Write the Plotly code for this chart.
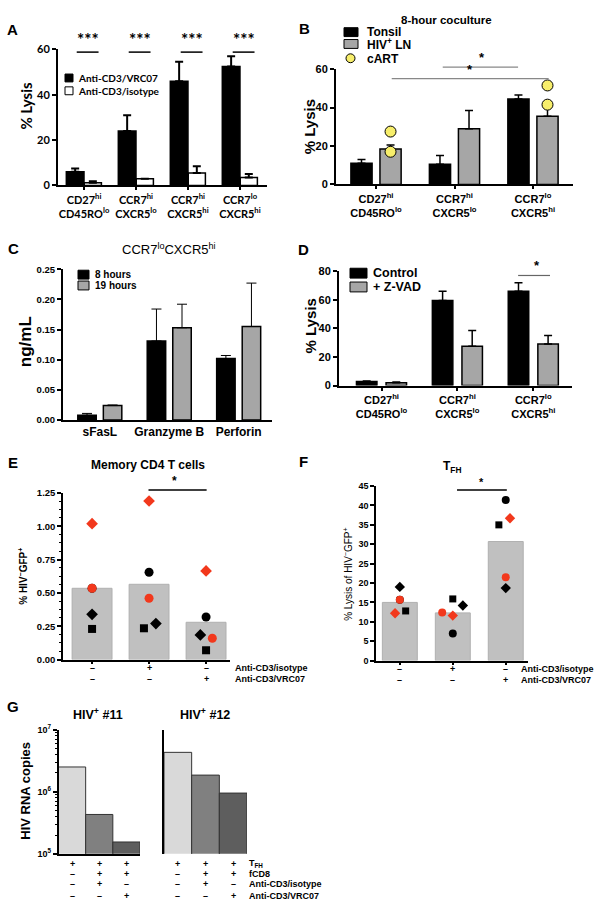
import plotly.graph_objects as go

W, H = 604, 915
FONT = "Liberation Sans, Arial, sans-serif"
FONT_A = "Lato, Carlito, sans-serif"
RED = "#f2381c"
GRAY = "#a6a6a6"

# ---------------- data ----------------
A_categories = ["CD27<sup>hi</sup><br>CD45RO<sup>lo</sup>", "CCR7<sup>hi</sup><br>CXCR5<sup>lo</sup>",
                "CCR7<sup>hi</sup><br>CXCR5<sup>hi</sup>", "CCR7<sup>lo</sup><br>CXCR5<sup>hi</sup>"]
A_vrc07 = [6.0, 24.0, 46.0, 52.5]
A_vrc07_err = [1.5, 7.0, 8.5, 4.5]
A_isotype = [1.2, 3.0, 5.5, 3.5]
A_isotype_err = [0.6, 0.0, 3.0, 1.5]
A_sig = ["***", "***", "***", "***"]

B_categories = ["CD27<sup>hi</sup><br>CD45RO<sup>lo</sup>", "CCR7<sup>hi</sup><br>CXCR5<sup>lo</sup>",
                "CCR7<sup>lo</sup><br>CXCR5<sup>hi</sup>"]
B_tonsil = [11.0, 10.5, 44.5]
B_tonsil_err = [2.0, 4.5, 2.0]
B_ln = [18.5, 29.0, 35.5]
B_ln_err = [2.0, 9.5, 7.5]
B_cart_group = [0, 0, 2, 2]
B_cart = [27.5, 17.0, 51.5, 41.5]

C_categories = ["sFasL", "Granzyme B", "Perforin"]
C_8h = [0.008, 0.131, 0.102]
C_8h_err = [0.003, 0.053, 0.005]
C_19h = [0.024, 0.153, 0.155]
C_19h_err = [0.001, 0.039, 0.072]

D_categories = B_categories
D_control = [2.8, 59.5, 66.0]
D_control_err = [0.4, 6.5, 6.0]
D_zvad = [2.0, 27.5, 29.0]
D_zvad_err = [0.5, 11.0, 6.0]

EF_isotype = ["–", "+", "–"]
EF_vrc07 = ["–", "–", "+"]

E_mean = [0.535, 0.565, 0.28]
E_black_circle = [0.535, 0.655, 0.32]
E_red_diamond = [1.02, 1.19, 0.665]
E_red_circle = [0.535, 0.46, 0.16]
E_black_diamond = [0.34, 0.27, 0.185]
E_black_square = [0.23, 0.235, 0.07]

F_mean = [15.0, 12.3, 30.7]
F_black_circle = [15.7, 7.0, 41.4]
F_red_diamond = [12.2, 11.6, 36.7]
F_red_circle = [15.7, 12.4, 21.5]
F_black_diamond = [19.0, 14.2, 18.7]
F_black_square = [12.8, 15.9, 35.0]

G_tfh = ["+", "+", "+"]
G_fcd8 = ["–", "+", "+"]
G_iso = ["–", "+", "–"]
G_vrc07 = ["–", "–", "+"]
G_p11 = [2.5e6, 4.3e5, 1.55e5]
G_p12 = [4.3e6, 1.85e6, 9.5e5]

# jitter of the individual donor points (horizontal spread, category units)
E_jit = {"bc": [0, 0, 0], "rd": [0, 0, 0], "rc": [0, 0, 0.11],
         "bd": [0, 0.12, -0.1], "bs": [0, -0.09, 0]}
F_jit = {"bc": [0, 0, 0], "rd": [-0.09, 0, 0.08], "rc": [0, -0.2, 0],
         "bd": [0, 0.19, 0], "bs": [0.11, 0, -0.13]}

fig = go.Figure()
layout = dict(width=W, height=H, margin=dict(l=0, r=0, t=0, b=0),
              paper_bgcolor="white", plot_bgcolor="white", showlegend=False,
              barmode="overlay", annotations=[], shapes=[])


def ax_names(n):
    s = "" if n == 1 else str(n)
    return "x" + s, "y" + s, "xaxis" + s, "yaxis" + s


def add_axes(n, xpx, ypx, xr, yr, xkw=None, ykw=None, lw=2):
    xs, ys, xn, yn = ax_names(n)
    xa = dict(domain=[xpx[0] / W, xpx[1] / W], range=xr, anchor=ys, showgrid=False,
              zeroline=False, showline=True, linecolor="black", linewidth=lw, tickangle=0,
              ticks="outside", ticklen=3, tickwidth=lw, tickcolor="black", fixedrange=True)
    ya = dict(domain=[1 - ypx[1] / H, 1 - ypx[0] / H], range=yr, anchor=xs, showgrid=False,
              zeroline=False, showline=True, linecolor="black", linewidth=lw,
              ticks="outside", ticklen=4, tickwidth=lw, tickcolor="black", fixedrange=True)
    if xkw:
        xa.update(xkw)
    if ykw:
        ya.update(ykw)
    layout[xn] = xa
    layout[yn] = ya
    return xs, ys


def ann(text, x, y, size, bold=True, xanchor="center", yanchor="middle", family=FONT,
        angle=0, xref="paper", yref="paper", color="black"):
    if xref == "paper":
        x = x / W
    if yref == "paper":
        y = 1 - y / H
    layout["annotations"].append(dict(
        text=text, x=x, y=y, xref=xref, yref=yref, showarrow=False, xanchor=xanchor,
        yanchor=yanchor, textangle=angle,
        font=dict(family=family, size=size, color=color, weight="bold" if bold else "normal")))


def rect_px(x0, y0, x1, y1, fill, line="black", lw=1):
    layout["shapes"].append(dict(type="rect", xref="paper", yref="paper",
                                 x0=x0 / W, x1=x1 / W, y0=1 - y1 / H, y1=1 - y0 / H,
                                 fillcolor=fill, line=dict(color=line, width=lw)))


def sig(xs, ys, x0, x1, y, ymax, text, xt, size, color="black", lw=1.5, family=FONT):
    # significance bar: y given in data units, placed through the axis domain
    layout["shapes"].append(dict(type="line", xref=xs, yref=ys + " domain", x0=x0, x1=x1,
                                 y0=y / ymax, y1=y / ymax, line=dict(color=color, width=lw)))
    ann(text, xt, y / ymax, size, xref=xs, yref=ys + " domain", yanchor="bottom", family=family)


def bar(xs, ys, vals, err, shift, width, color, lw=1.5, ethick=1.5, ewidth=4):
    fig.add_trace(go.Bar(
        x=[i + shift for i in range(len(vals))], y=vals, width=width, xaxis=xs, yaxis=ys,
        marker=dict(color=color, line=dict(color="black", width=lw)),
        error_y=dict(type="data", array=err, arrayminus=[0] * len(vals), symmetric=False,
                     color="black", thickness=ethick, width=ewidth)))


# ---------------- panel A ----------------
xa, ya = add_axes(1, (58, 267), (43, 181), [-0.5, 3.52], [0, 60],
                  xkw=dict(tickvals=list(range(4)), ticktext=A_categories,
                           tickfont=dict(family=FONT_A, size=11, color="black", weight="bold")),
                  ykw=dict(tickvals=[0, 20, 40, 60],
                           tickfont=dict(family=FONT_A, size=11, color="black", weight="bold")))
bar(xa, ya, A_vrc07, A_vrc07_err, -0.17, 0.34, "black", ethick=2, ewidth=4)
bar(xa, ya, A_isotype, A_isotype_err, 0.17, 0.33, "white", ethick=2, ewidth=4)
for i, s in enumerate(A_sig):
    sig(xa, ya, i - 0.14, i + 0.28, 58.8, 60, s, i + 0.07, 17, family=FONT_A)
ann("% Lysis", 26, 100, 15, family=FONT_A, angle=-90)
ann("A", 12.5, 23, 15)
rect_px(65, 68, 73, 76, "black")
rect_px(65, 81, 73, 89, "white")
ann("Anti-CD3/VRC07", 76, 72, 10, family=FONT_A, xanchor="left")
ann("Anti-CD3/isotype", 76, 85, 10, family=FONT_A, xanchor="left")

# ---------------- panel B ----------------
xb, yb = add_axes(2, (336, 573), (63, 180), [-0.51, 2.51], [0, 60],
                  xkw=dict(tickvals=list(range(3)), ticktext=B_categories,
                           tickfont=dict(family=FONT, size=11, color="black", weight="bold")),
                  ykw=dict(tickvals=[0, 20, 40, 60],
                           tickfont=dict(family=FONT, size=11, color="black", weight="bold")))
bar(xb, yb, B_tonsil, B_tonsil_err, -0.185, 0.27, "black")
bar(xb, yb, B_ln, B_ln_err, 0.185, 0.27, GRAY)
fig.add_trace(go.Scatter(x=[g + 0.185 for g in B_cart_group], y=B_cart, mode="markers",
                         xaxis=xb, yaxis=yb, cliponaxis=False,
                         marker=dict(size=11, color="#f7ee6b", line=dict(color="black", width=1))))
sig(xb, yb, 0.85, 1.81, 61, 60, "*", 1.35, 13, color="#888888", lw=1.2)
sig(xb, yb, 0.2, 2.2, 55, 60, "*", 1.2, 13, color="#888888", lw=1.2)
ann("% Lysis", 309, 122, 15, angle=-90)
ann("B", 304, 22, 15)
ann("8-hour coculture", 447, 13, 11.5)
rect_px(344, 21, 358, 30, "black")
rect_px(344, 33, 358, 42, GRAY)
layout["shapes"].append(dict(type="circle", xref="paper", yref="paper",
                             x0=346 / W, x1=355 / W, y0=1 - 56.5 / H, y1=1 - 47.5 / H,
                             fillcolor="#f7ee6b", line=dict(color="black", width=1)))
ann("Tonsil", 365, 25.5, 12, xanchor="left")
ann("HIV<sup>+</sup> LN", 365, 37.5, 12, xanchor="left")
ann("cART", 365, 53, 12, xanchor="left")

# ---------------- panel C ----------------
xc, yc = add_axes(3, (63, 272), (266, 419), [-0.53, 2.48], [0, 0.25],
                  xkw=dict(tickvals=list(range(3)), ticktext=C_categories, ticks="",
                           tickfont=dict(family=FONT, size=12, color="black", weight="bold")),
                  ykw=dict(tickvals=[0, 0.05, 0.10, 0.15, 0.20, 0.25], tickformat=".2f",
                           tickfont=dict(family=FONT, size=9.5, color="black", weight="bold")))
bar(xc, yc, C_8h, C_8h_err, -0.184, 0.266, "black", ethick=1, ewidth=5)
bar(xc, yc, C_19h, C_19h_err, 0.184, 0.266, GRAY, ethick=1, ewidth=5)
ann("ng/mL", 25, 340, 17, angle=-90)
ann("C", 13, 245, 15)
ann("CCR7<sup>lo</sup>CXCR5<sup>hi</sup>", 169, 245, 13, bold=False)
rect_px(78, 267, 89, 276, "black")
rect_px(78, 278, 89, 287, GRAY)
ann("8 hours", 93, 271.5, 10, xanchor="left")
ann("19 hours", 93, 282.5, 10, xanchor="left")

# ---------------- panel D ----------------
xd, yd = add_axes(4, (339, 572), (268, 384), [-0.56, 2.51], [0, 80],
                  xkw=dict(tickvals=list(range(3)), ticktext=D_categories,
                           tickfont=dict(family=FONT, size=11, color="black", weight="bold")),
                  ykw=dict(tickvals=[0, 20, 40, 60, 80],
                           tickfont=dict(family=FONT, size=11, color="black", weight="bold")))
bar(xd, yd, D_control, D_control_err, -0.195, 0.27, "black")
bar(xd, yd, D_zvad, D_zvad_err, 0.195, 0.27, GRAY)
sig(xd, yd, 1.80, 2.22, 77, 80, "*", 2.05, 13, color="#666666", lw=1.2)
ann("% Lysis", 310, 324, 15, angle=-90)
ann("D", 303, 246, 15)
rect_px(350, 265, 367, 275, "black")
rect_px(350, 279, 367, 289, GRAY)
ann("Control", 371, 270, 12.5, xanchor="left")
ann("+ Z-VAD", 371, 284, 12.5, xanchor="left")


# ---------------- panels E, F ----------------
def donor_points(xs, ys, jit, bc, rd, rc, bd, bs, size):
    specs = [("bc", bc, "circle", "black", size + 1),
             ("rd", rd, "diamond", RED, size + 1),
             ("rc", rc, "circle", RED, size + 1),
             ("bd", bd, "diamond", "black", size + 1),
             ("bs", bs, "square", "black", size)]
    for key, vals, sym, col, sz in specs:
        fig.add_trace(go.Scatter(x=[i + jit[key][i] for i in range(len(vals))], y=vals,
                                 mode="markers", xaxis=xs, yaxis=ys, cliponaxis=False,
                                 marker=dict(symbol=sym, size=sz, color=col, line=dict(width=0))))


xe, ye = add_axes(5, (63, 230), (493, 662), [-0.51, 2.42], [0, 1.25], lw=1.5,
                  xkw=dict(tickvals=list(range(3)), showticklabels=False),
                  ykw=dict(tickvals=[0, 0.25, 0.5, 0.75, 1.0, 1.25], tickformat=".2f",
                           tickfont=dict(family=FONT, size=9.5, color="black", weight="bold"),
                           minor=dict(ticks="outside", ticklen=2, tickwidth=1, dtick=0.0625,
                                      tickcolor="black", showgrid=False)))
fig.add_trace(go.Bar(x=list(range(3)), y=E_mean, width=0.7, xaxis=xe, yaxis=ye,
                     marker=dict(color="#c0c0c0", line=dict(color="#b0b0b0", width=1))))
donor_points(xe, ye, E_jit, E_black_circle, E_red_diamond, E_red_circle, E_black_diamond,
             E_black_square, 8)
sig(xe, ye, 0.99, 2.01, 1.272, 1.25, "*", 1.45, 12)
ann("% HIV<sup>−</sup>GFP<sup>+</sup>", 23, 578, 10, angle=-90)
ann("E", 12.5, 462, 15)
ann("Memory CD4 T cells", 148, 465, 12)
for i in range(3):
    ann(EF_isotype[i], i, 671, 9, xref=xe)
    ann(EF_vrc07[i], i, 682, 9, xref=xe)
ann("Anti-CD3/isotype", 233, 671, 9, xanchor="left")
ann("Anti-CD3/VRC07", 233, 682, 9, xanchor="left")

xf, yf = add_axes(6, (376, 528), (486, 663), [-0.45, 2.42], [0, 45], lw=1.5,
                  xkw=dict(tickvals=list(range(3)), showticklabels=False),
                  ykw=dict(tickvals=list(range(0, 46, 5)),
                           tickfont=dict(family=FONT, size=9, color="black", weight="bold")))
fig.add_trace(go.Bar(x=list(range(3)), y=F_mean, width=0.66, xaxis=xf, yaxis=yf,
                     marker=dict(color="#c0c0c0", line=dict(color="#b0b0b0", width=1))))
donor_points(xf, yf, F_jit, F_black_circle, F_red_diamond, F_red_circle, F_black_diamond,
             F_black_square, 7)
sig(xf, yf, 1.08, 2.02, 44, 45, "*", 1.55, 11)
ann("% Lysis of HIV<sup>−</sup>GFP<sup>+</sup>", 348, 575, 10, bold=False, angle=-90)
ann("F", 303, 461, 15)
ann("T<sub>FH</sub>", 452, 467, 12)
for i in range(3):
    ann(EF_isotype[i], i, 672, 9, xref=xf)
    ann(EF_vrc07[i], i, 683, 9, xref=xf)
ann("Anti-CD3/isotype", 519, 672, 9, xanchor="left")
ann("Anti-CD3/VRC07", 519, 683, 9, xanchor="left")

# ---------------- panel G ----------------
g_colors = ["#d9d9d9", "#808080", "#5e5e5e"]
logkw = dict(type="log", tickvals=[1e5, 1e6, 1e7],
             ticktext=["10<sup>5</sup>", "10<sup>6</sup>", "10<sup>7</sup>"],
             tickfont=dict(family=FONT, size=9, color="black", weight="bold"),
             minor=dict(ticks="outside", ticklen=2, tickwidth=1, dtick="D1", tickcolor="black",
                        showgrid=False))
xg1, yg1 = add_axes(7, (58.5, 140), (733, 859), [-0.5, 2.5], [5, 7], lw=1.5,
                    xkw=dict(tickvals=list(range(3)), showticklabels=False, ticks=""),
                    ykw=logkw)
fig.add_trace(go.Bar(x=list(range(3)), y=G_p11, width=1, xaxis=xg1, yaxis=yg1,
                     marker=dict(color=g_colors, line=dict(color="#333333", width=1))))
xg2, yg2 = add_axes(8, (164, 247), (733, 859), [-0.5, 2.5], [5, 7], lw=1.5,
                    xkw=dict(showline=False, showticklabels=False, ticks=""),
                    ykw=dict(type="log", showticklabels=False, ticks=""))
fig.add_trace(go.Bar(x=list(range(3)), y=G_p12, width=1, xaxis=xg2, yaxis=yg2,
                     marker=dict(color=g_colors, line=dict(color="#333333", width=1))))
ann("HIV RNA copies", 26, 795, 13, angle=-90)
ann("G", 13, 710, 15)
ann("HIV<sup>+</sup> #11", 98, 717, 12.5)
ann("HIV<sup>+</sup> #12", 205, 717, 12.5)
rows = [(G_tfh, 869), (G_fcd8, 879), (G_iso, 890), (G_vrc07, 902)]
for vals, ypx in rows:
    for i in range(3):
        ann(vals[i], i, ypx, 9, xref=xg1)
        ann(vals[i], i, ypx, 9, xref=xg2)
ann("T<sub>FH</sub>", 247, 869, 9, xanchor="left")
ann("fCD8", 247, 879, 9, xanchor="left")
ann("Anti-CD3/isotype", 247, 890, 9, xanchor="left")
ann("Anti-CD3/VRC07", 247, 902, 9, xanchor="left")

fig.update_layout(**layout)
fig.write_html("out.html", config={"displayModeBar": False},
               post_script="document.body.style.margin='0px';")
